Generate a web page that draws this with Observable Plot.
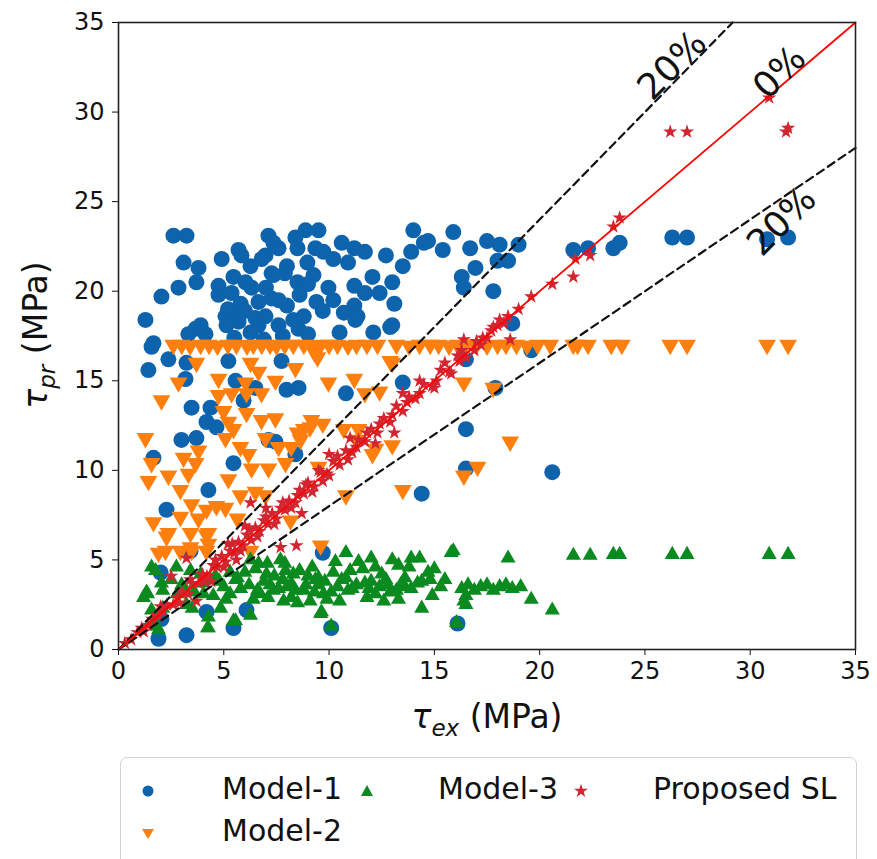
<!DOCTYPE html>
<html><head><meta charset="utf-8">
<script src="https://cdn.jsdelivr.net/npm/d3@7"></script>
<script src="https://cdn.jsdelivr.net/npm/@observablehq/plot@0.6"></script>
<style>
body{margin:0;background:#fff;font-family:"DejaVu Sans",sans-serif;}
#wrap{position:relative;width:877px;height:859px;overflow:hidden;background:#fff;}
#chart svg{display:block;}
#legend{position:absolute;left:120px;top:757px;width:737px;height:130px;border:1.5px solid #d3d3d3;border-radius:7px;box-sizing:border-box;background:#fff;}
.lt{position:absolute;font-size:30px;line-height:30px;color:#111;white-space:nowrap;}
.lm{position:absolute;}
</style></head><body>
<div id="wrap"><div id="chart"></div><div id="legend"></div></div>
<script>
// ---- data ----
const xTicks = [0, 5, 10, 15, 20, 25, 30, 35];
const yTicks = [0, 5, 10, 15, 20, 25, 30, 35];
const seriesNames = ["Model-1", "Model-2", "Model-3", "Proposed SL"];

const model1 = [[2.61,23.1],[3.23,23.1],[3.09,21.6],[3.8,21.3],[3.7,20.5],[2.85,20.2],[2.04,19.7],[1.28,18.4],[1.66,17.1],[4.9,21.8],[5.7,22.3],[5.84,22.0],[6.27,21.4],[5.46,20.8],[4.75,20.3],[4.75,19.8],[5.37,19.9],[5.08,18.6],[5.37,18.8],[5.7,18.3],[5.13,18.1],[6.27,17.7],[3.66,17.9],[3.32,17.6],[4.13,17.6],[3.9,18.1],[6.03,20.5],[6.32,20.2],[7.12,23.1],[7.36,22.7],[6.98,22.0],[7.27,21.0],[6.65,19.4],[6.98,18.6],[7.27,19.6],[6.65,18.1],
[8.88,23.4],[9.5,23.4],[8.4,23.0],[7.6,22.4],[8.5,22.4],[9.35,22.4],[9.73,22.2],[10.6,22.7],[11.2,22.4],[11.7,22.2],[12.7,22.0],[10.9,21.6],[10.2,21.8],[8.0,21.4],[8.97,21.6],[9.26,20.9],[8.5,20.5],[7.36,20.9],[9.97,20.2],[11.2,20.3],[12.06,20.8],[11.7,19.9],[12.4,19.9],[13.0,20.5],[13.1,19.3],[11.2,19.2],[10.7,18.8],[9.7,18.9],[8.8,18.6],[11.35,18.6],[13.0,18.1],[12.1,17.7],[7.6,18.1],[8.55,17.9],[9.0,17.6],[14.0,23.4],[14.5,22.7],[13.9,22.2],[13.5,21.4],
[15.9,23.3],[15.4,22.3],[14.7,22.8],[16.7,22.4],[17.5,22.8],[18.1,22.6],[19.0,22.6],[18.5,21.7],[18.0,21.7],[16.95,21.3],[16.3,20.8],[16.4,20.2],[17.8,20.0],[18.7,18.2],[19.6,16.7],[12.9,18.0],[11.25,18.4],[16.5,16.2],
[21.6,22.3],[22.3,22.4],[23.5,22.4],[23.8,22.7],[26.3,23.0],[27.0,23.0],[30.8,22.9],[31.8,23.0],
[10.8,14.3],[13.5,14.9],[17.9,14.6],[16.5,12.3],[16.5,10.1],[20.6,9.9],[14.4,8.7],[9.7,5.4],[10.1,1.2],[16.1,1.45],
[1.57,16.9],[1.42,15.6],[2.37,16.2],[3.23,16.0],[3.18,15.1],[3.47,13.5],[4.37,13.5],[4.18,12.7],[4.65,12.4],[2.99,11.7],[3.7,11.8],[1.66,10.7],[5.46,10.4],[4.27,8.9],[2.28,7.8],[5.22,16.1],[5.56,15.0],[5.94,13.9],[6.5,14.6],[7.74,16.1],[8.55,14.6],[7.98,14.5],[7.12,11.7],[7.45,11.6],[8.4,10.9],
[2.0,4.3],[1.9,0.6],[3.23,0.8],[3.42,5.5],[5.46,1.2],[6.08,2.2],[4.18,2.1],[2.04,1.7],
[5.2,19.0],[5.8,19.3],[6.0,18.9],[6.5,18.5],[7.0,20.2],[7.6,19.5],[8.0,19.2],[8.6,19.8],[9.0,20.4],[6.8,21.8],[7.9,21.0],[8.3,18.4],[9.4,19.4],[5.5,17.4],[6.9,17.3],[7.8,17.5],[10.2,19.5],[10.5,17.7]];

const model2 = [[2.6,17.0],[3.0,17.0],[3.4,16.95],[3.9,17.0],[4.3,17.0],[4.7,16.95],[5.2,17.0],[5.6,17.0],[6.1,16.95],[6.4,17.0],[6.8,17.0],[7.2,17.0],[7.5,16.95],[7.9,17.0],[8.3,17.0],[8.8,17.0],[9.2,16.95],[9.6,17.0],[10.0,17.0],[10.4,17.0],[10.9,16.95],[11.3,17.0],[11.8,17.0],[12.3,17.0],[13.2,17.0],[13.8,16.95],[14.3,17.0],[14.8,17.0],[15.2,17.0],[15.7,16.95],[16.1,17.0],[16.6,17.0],[17.0,17.0],[17.5,16.95],[18.0,17.0],[18.4,17.0],[18.9,17.0],[19.4,16.95],[19.9,17.0],[20.5,17.0],[21.6,17.0],[21.8,17.0],[22.3,17.0],[23.4,17.0],[23.9,17.0],[26.2,17.0],[27.0,17.0],[30.8,17.0],[31.8,17.0],
[2.04,13.9],[1.28,11.8],[1.57,10.4],[1.42,9.4],[2.37,9.7],[3.09,10.7],[2.85,14.9],[3.7,16.0],[4.75,15.1],[5.37,14.3],[6.03,14.9],[6.08,13.2],[4.75,14.2],[4.99,13.3],[5.22,12.7],[5.46,12.3],[5.08,11.8],[5.79,11.3],[6.17,10.9],[6.79,12.8],[7.45,12.9],[6.98,11.8],[7.6,11.3],[8.2,11.3],[8.8,12.3],[8.64,11.7],[9.16,12.8],[9.5,10.2],[7.93,10.4],[7.12,10.1],[6.32,10.1],[6.65,15.5],[7.45,15.0],[6.08,14.3],[6.79,14.3],[3.8,11.1],[3.66,10.4],[3.32,9.8],[5.22,9.5],[2.94,8.9],[3.47,8.1],[1.66,7.1],[2.94,7.4],[4.18,7.8],[4.65,8.0],[5.08,7.9],[3.8,7.3],[5.79,8.6],[6.5,8.8],[6.98,8.6],[2.37,6.5],[3.42,6.5],[4.27,6.5],[1.9,5.4],[2.94,5.5],[3.42,5.7],[4.27,5.9],[5.65,7.3],[8.17,7.2],[9.6,5.8],[9.7,12.6],[9.1,12.4],[8.5,12.1],[9.97,14.9],[11.2,15.1],[11.7,14.3],[12.4,14.4],[13.0,16.0],[16.4,14.9],[17.8,14.6],[10.7,12.3],[11.4,12.3],[11.3,11.7],[12.06,10.9],[13.0,11.4],[12.2,11.2],[18.6,11.6],[17.05,10.2],[16.4,9.7],[13.5,8.9],[10.8,8.6],[2.28,6.3],[2.23,5.5],[3.47,5.5],[4.18,6.4],[4.18,5.5],[6.27,5.5],[6.27,16.0],[8.4,15.7],[9.45,16.3],[12.9,16.1],[9.3,16.6]];

const model3 = [[21.6,5.25],[22.4,5.25],[23.5,5.3],[23.8,5.3],[26.3,5.3],[27.0,5.3],[30.9,5.3],[31.8,5.3],
[10.8,5.4],[11.4,4.9],[12.0,5.1],[13.0,5.0],[13.9,5.1],[14.3,5.1],[15.8,5.4],[18.5,5.1],[19.6,2.8],[20.6,2.2],[15.3,3.5],
[16.3,3.4],[16.6,3.6],[16.9,3.3],[17.2,3.5],[17.5,3.6],[17.8,3.3],[18.1,3.5],[18.4,3.6],[18.7,3.4],[19.1,3.5],[16.5,3.0],[16.4,2.7],
[14.4,2.3],[9.64,2.1],[10.1,1.3],[16.05,1.5],[16.5,2.5],
[1.57,4.6],[1.33,3.2],[1.19,2.9],[2.04,3.7],[1.57,2.2],[1.8,1.3],[2.75,4.6],[3.23,2.5],[3.9,4.2],[4.27,1.2],[4.27,1.8],[5.56,1.6],[6.27,1.9],[5.56,3.9],[6.65,4.8],[7.03,4.2],[7.93,4.4],[8.2,2.9],[9.35,3.9],[9.5,3.6],[10.1,3.2],[10.8,4.0],[11.1,3.4],[11.7,3.7],[12.2,3.1],[12.7,3.9],[13.2,3.3],[13.6,4.0],[14.2,3.7],[14.7,4.3],[14.8,3.9],[15.9,5.5],
[1.76,4.4],[1.38,3.1],[2.1,3.3],[2.1,2.3],[1.66,1.45],[2.8,3.1],[3.42,4.4],[3.5,2.3],[4.04,3.1],[4.37,3.9],[4.85,2.3],[5.65,4.0],[6.27,5.0],[7.07,4.8],[7.69,5.0],[8.3,4.2],[8.8,3.3],[9.5,4.0],[9.73,3.1],[5.3,3.1],[6.74,3.1],[7.36,3.3],[7.84,2.7],[9.1,2.7],[9.6,2.0],[5.46,1.6],[4.23,1.2],
[5.0,3.5],[5.8,3.4],[6.2,3.6],[6.6,3.3],[7.2,3.6],[7.6,3.4],[8.0,3.5],[8.4,3.3],[8.9,3.6],[9.3,3.2],[10.4,3.5],[10.9,3.3],[11.3,3.6],[11.9,3.4],[12.4,3.5],[12.9,3.2],[13.4,3.6],[13.9,3.4],[4.6,4.1],[6.0,4.3],[7.4,4.1],[8.6,4.4],[10.2,4.3],[11.6,4.5],[12.5,4.2],[13.8,4.6],[2.5,3.9],[3.0,3.6],[4.0,3.7],[3.6,3.2],[4.5,3.0],[6.4,2.8],[8.5,2.6],[10.5,2.7],[11.8,2.9],[13.3,2.8],[14.9,3.0],[15.0,4.5],[1.9,1.1],
[4.8,3.8],[5.3,4.3],[6.9,3.8],[7.8,3.9],[8.2,3.7],[9.0,4.1],[9.8,3.8],[10.6,3.9],[11.0,4.4],[12.0,3.8],[12.8,3.6],[13.6,3.5],[14.4,3.8],[15.5,3.9],[6.5,4.5],[7.9,4.8],[9.2,4.6],[10.3,4.9],[12.2,4.6],[13.3,4.7],[3.2,3.3],[5.1,2.8],[7.1,2.9],[9.9,2.8],[12.6,2.7]];

const proposed = [[0.3,0.35],[0.6,0.55],[0.9,0.95],[1.1,1.2],[1.4,1.35],[1.6,1.7],[1.9,1.85],[2.1,2.2],[2.3,2.5],[2.6,2.5],[2.8,2.9],[3.0,3.2],[3.3,3.1],[3.5,3.7],[3.8,3.7],[4.0,4.2],[4.2,4.1],[4.5,4.7],[4.7,4.6],[4.9,5.2],[5.1,4.9],[5.3,5.5],[5.5,5.4],[5.7,6.0],[5.9,5.8],[6.1,6.4],[6.3,6.1],[6.5,6.8],[6.7,6.6],[6.9,7.2],[7.1,7.0],[7.3,7.6],[7.5,7.3],[7.7,7.9],[7.9,7.8],[8.1,8.3],[8.4,8.2],[8.6,8.9],[8.8,8.7],[9.0,9.3],[9.3,9.1],[9.6,9.9],[9.9,9.8],[10.2,10.5],[10.5,10.3],[10.8,11.1],[11.1,11.0],[11.4,11.7],[11.7,11.6],[12.0,12.3],[12.3,12.1],[12.6,12.9],[12.9,12.7],[13.2,13.6],[13.5,13.3],[13.8,14.1],[14.1,14.0],[14.5,14.8],[14.9,14.7],[15.3,15.6],[15.7,15.5],[16.1,16.4],[16.5,16.3],[17.0,17.2],[17.5,17.4],[18.0,18.1],[18.5,18.6],[19.0,19.0],
[20.6,20.4],[21.6,20.8],[21.7,21.8],[22.4,22.0],[23.5,23.6],[23.8,24.1],[26.2,28.9],[27.0,28.9],[30.9,30.8],[31.8,29.1],[31.7,28.9],[19.6,19.7],[18.1,18.4],[18.6,17.3],[17.8,18.0],[17.3,17.4],[16.4,17.3],[16.9,16.7],[16.2,16.1],[15.8,15.4],[9.7,9.4],[13.1,12.1],[13.5,14.3],[2.5,4.1],[3.23,5.1],[3.7,2.7],[7.7,5.7],[8.45,5.8],[6.27,8.2],[8.7,7.6],[5.2,5.9],[6.0,6.9],[7.0,7.9],[4.4,3.8],[5.6,5.0],[10.0,10.9],[11.0,11.8],[12.2,11.5],[14.3,15.0],[15.0,14.6],
[1.2,1.0],[2.0,2.4],[2.9,2.6],[3.4,3.9],[4.1,3.8],[4.6,5.0],[5.0,4.6],[5.4,5.9],[5.8,5.5],[6.2,6.7],[6.6,6.3],[7.0,7.4],[7.4,7.0],[7.8,8.2],[8.2,7.9],[8.5,8.6],[8.9,9.2],[9.2,8.8],[9.5,10.0],[10.0,9.7],[10.4,10.8],[10.9,10.6],[11.3,11.3],[11.8,12.1],[12.4,12.6],[13.0,13.1],[13.7,13.8],[14.3,14.3],[15.1,15.0],[15.5,16.0],[16.3,16.7],[17.2,17.0],[17.7,17.8],[18.3,18.2]];

const refSlopes = [1.2, 1.0, 0.8];
const refLabels = ["20%", "0%", "20%"];
const labelX = [26.3, 31.4, 31.5];
const labelY = [32.6, 32.2, 23.9];

// ---- styling ----
const C1 = "#0e63ad", C2 = "#ff7f0e", C3 = "#0a8a1f", C4 = "#d22530";
const triDown = {draw(ctx, size){const y = -Math.sqrt(size/(Math.sqrt(3)*3)); ctx.moveTo(0,-2*y); ctx.lineTo(-Math.sqrt(3)*y, y); ctx.lineTo(Math.sqrt(3)*y, y); ctx.closePath();}};

const H = 752;
const refLines = refSlopes.map((s, i) => ({s, pts: [[0, 0], [Math.min(35, 35 / s), Math.min(35, 35 / s) * s]]}));
const annots = refLabels.map((t, i) => ({x: labelX[i], y: labelY[i], t}));

const svg = Plot.plot({
  width: 877, height: H,
  marginLeft: 118, marginRight: 22, marginTop: 22, marginBottom: H - 649,
  x: {domain: [0, 35], label: null},
  y: {domain: [0, 35], label: null},
  style: {fontFamily: "DejaVu Sans", fontSize: "24px", color: "#111", background: "white", overflow: "visible"},
  marks: [
    Plot.dot(model1, {x: d => d[0], y: d => d[1], r: 8, fill: C1, symbol: "circle"}),
    Plot.dot(model2, {x: d => d[0], y: d => d[1], r: 6.6, fill: C2, symbol: triDown}),
    Plot.dot(model3, {x: d => d[0], y: d => d[1], r: 5.6, fill: C3, symbol: "triangle"}),
    Plot.dot(proposed, {x: d => d[0], y: d => d[1], r: 4.5, fill: C4, symbol: "star"}),
    Plot.line(refLines[0].pts, {x: d => d[0], y: d => d[1], stroke: "#111", strokeWidth: 2.2, strokeDasharray: "8,5"}),
    Plot.line(refLines[2].pts, {x: d => d[0], y: d => d[1], stroke: "#111", strokeWidth: 2.2, strokeDasharray: "8,5"}),
    Plot.line(refLines[1].pts, {x: d => d[0], y: d => d[1], stroke: "#ff0000", strokeWidth: 1.8}),
    Plot.text(annots, {x: "x", y: "y", text: "t", rotate: -45, fontSize: 36, fill: "#111", fontFamily: "DejaVu Sans"}),
    Plot.axisX({ticks: xTicks, tickSize: 6, tickPadding: 6, fontSize: 24, label: null, tickFormat: d => String(d)}),
    Plot.axisY({ticks: yTicks, tickSize: 6, tickPadding: 8, fontSize: 24, label: null, tickFormat: d => String(d)}),
    Plot.frame({stroke: "#222", strokeWidth: 1.6})
  ]
});
document.getElementById("chart").appendChild(svg);

// axis titles with subscripts
const s = d3.select(svg);
const xl = s.append("text").attr("x", 487).attr("y", 728).attr("text-anchor", "middle")
  .attr("font-family", "DejaVu Sans").attr("font-size", 33).attr("fill", "#111");
xl.append("tspan").attr("font-style", "italic").text("τ");
xl.append("tspan").attr("font-style", "italic").attr("font-size", 23).attr("dy", 8).text("ex");
xl.append("tspan").attr("dy", -8).text(" (MPa)");
const yl = s.append("text").attr("transform", "translate(47,335) rotate(-90)").attr("text-anchor", "middle")
  .attr("font-family", "DejaVu Sans").attr("font-size", 33).attr("fill", "#111");
yl.append("tspan").attr("font-style", "italic").text("τ");
yl.append("tspan").attr("font-style", "italic").attr("font-size", 23).attr("dy", 8).text("pr");
yl.append("tspan").attr("dy", -8).text(" (MPa)");

// legend
const leg = document.getElementById("legend");
const items = [
  {name: seriesNames[0], mx: 27, my: 33, tx: 101, shape: `<circle cx="10" cy="10" r="5.5" fill="${C1}"/>`},
  {name: seriesNames[1], mx: 27, my: 75, tx: 101, shape: `<path d="M4,6 L16,6 L10,16 Z" fill="${C2}"/>`},
  {name: seriesNames[2], mx: 246, my: 33, tx: 317, shape: `<path d="M4,15 L16,15 L10,4 Z" fill="${C3}"/>`},
  {name: seriesNames[3], mx: 460, my: 33, tx: 532, shape: ""}
];
items.forEach((it, i) => {
  const m = document.createElement("div");
  m.className = "lm";
  m.style.left = (it.mx - 10) + "px"; m.style.top = (it.my - 10) + "px";
  let shape = it.shape;
  if (i === 3) {
    const p = d3.symbol(d3.symbolStar, 60)();
    shape = `<path transform="translate(10,10)" d="${p}" fill="${C4}"/>`;
  }
  m.innerHTML = `<svg width="20" height="20">${shape}</svg>`;
  leg.appendChild(m);
  const t = document.createElement("div");
  t.className = "lt";
  t.style.left = it.tx + "px"; t.style.top = (it.my - 17) + "px";
  t.textContent = it.name;
  leg.appendChild(t);
});
</script>
</body></html>
